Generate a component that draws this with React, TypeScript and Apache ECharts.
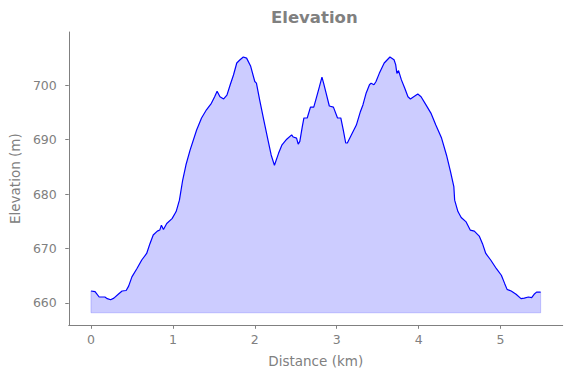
import React, { useEffect, useRef } from "react";
import * as echarts from "echarts";

const distanceKm = [
  0.0, 0.05, 0.1, 0.17, 0.2, 0.24, 0.28, 0.34, 0.38, 0.43, 0.46, 0.5, 0.56, 0.62, 0.68, 0.72, 0.76, 0.81, 0.84, 0.86,
  0.885, 0.925, 0.99, 1.04, 1.08, 1.12, 1.16, 1.21, 1.29, 1.35, 1.41, 1.47, 1.51, 1.54, 1.575, 1.62, 1.66, 1.7, 1.74,
  1.78, 1.82, 1.86, 1.9, 1.95, 2.0, 2.02, 2.06, 2.11, 2.16, 2.2, 2.24, 2.29, 2.33, 2.39, 2.45, 2.47, 2.51, 2.53, 2.55,
  2.58, 2.6, 2.64, 2.68, 2.72, 2.75, 2.79, 2.82, 2.84, 2.87, 2.91, 2.96, 3.01, 3.05, 3.08, 3.11, 3.13, 3.18, 3.24, 3.29,
  3.32, 3.36, 3.4, 3.42, 3.455, 3.48, 3.52, 3.58, 3.65, 3.7, 3.72, 3.735, 3.755, 3.79, 3.83, 3.87, 3.9, 3.94, 3.99,
  4.03, 4.09, 4.15, 4.21, 4.28, 4.34, 4.39, 4.43, 4.44, 4.48, 4.52, 4.58, 4.63, 4.68, 4.74, 4.78, 4.82, 4.88, 4.95,
  5.01, 5.05, 5.08, 5.13, 5.19, 5.25, 5.29, 5.34, 5.38, 5.41, 5.44, 5.49,
];

const elevationM = [
  662.2, 662.1, 661.1, 661.1, 660.8, 660.6, 660.9, 661.7, 662.2, 662.3, 663.1, 664.8, 666.3, 667.9, 669.1, 670.9, 672.5,
  673.2, 673.4, 674.3, 673.5, 674.6, 675.5, 676.8, 678.9, 682.6, 685.4, 688.1, 691.8, 694.0, 695.5, 696.7, 697.9, 698.9,
  697.9, 697.5, 698.2, 700.1, 701.9, 704.1, 704.7, 705.2, 705.0, 703.5, 700.7, 700.4, 697.3, 693.6, 690.0, 687.2, 685.3,
  687.5, 689.0, 690.1, 690.9, 690.5, 690.3, 689.2, 689.7, 692.4, 694.0, 694.0, 696.0, 696.0, 697.6, 699.8, 701.5, 700.4,
  698.6, 696.2, 696.0, 694.0, 694.0, 691.8, 689.4, 689.4, 690.9, 692.7, 695.2, 696.4, 698.6, 700.1, 700.4, 700.1, 700.7,
  702.2, 704.1, 705.2, 704.7, 703.8, 702.2, 702.7, 701.0, 699.5, 697.9, 697.5, 697.9, 698.4, 697.9, 696.4, 694.9, 692.7,
  690.3, 687.2, 684.1, 681.4, 678.9, 676.8, 675.7, 674.9, 673.4, 673.2, 672.3, 670.9, 669.1, 667.9, 666.3, 665.1, 663.6,
  662.5, 662.2, 661.6, 660.8, 660.9, 661.1, 661.0, 661.6, 662.0, 662.0,
];

const fillBase = 658.2;
const xTicks = [0, 1, 2, 3, 4, 5];
const yTicks = [660, 670, 680, 690, 700];

const GRAY = "#808080";
const FONT = "DejaVu Sans";

export default function App() {
  const ref = useRef<HTMLDivElement>(null);
  useEffect(() => {
    if (!ref.current) return;
    const chart = echarts.init(ref.current, undefined, { renderer: "svg" });
    const pts = distanceKm.map((d, i) => [d, elevationM[i]]);
    const n = distanceKm.length;
    const outline = [
      [distanceKm[0], elevationM[0]],
      [distanceKm[0], fillBase],
      [distanceKm[n - 1], fillBase],
      [distanceKm[n - 1], elevationM[n - 1]],
    ];
    chart.setOption({
      animation: false,
      title: {
        text: "Elevation",
        left: 271,
        top: 9,
        padding: 0,
        textStyle: { fontFamily: FONT, fontSize: 16.5, fontWeight: "bold", color: GRAY },
      },
      grid: { left: 66.7, right: 8.3, top: 32, bottom: 52.7 },
      xAxis: {
        type: "value",
        min: -0.271,
        max: 5.759,
        name: "Distance (km)",
        nameLocation: "middle",
        nameGap: 29,
        nameTextStyle: { fontFamily: FONT, fontSize: 13.5, color: GRAY },
        axisLine: { show: true, onZero: false, lineStyle: { color: GRAY, width: 1 } },
        axisTick: { show: true, length: 3.5, customValues: xTicks, lineStyle: { color: GRAY } },
        axisLabel: { customValues: xTicks, margin: 8, fontFamily: FONT, fontSize: 12.5, color: GRAY },
        splitLine: { show: false },
      },
      yAxis: {
        type: "value",
        min: 655.9,
        max: 709.8,
        name: "Elevation (m)",
        nameLocation: "middle",
        nameRotate: 90,
        nameGap: 41,
        nameTextStyle: { fontFamily: FONT, fontSize: 13.5, color: GRAY },
        axisLine: { show: true, onZero: false, lineStyle: { color: GRAY, width: 1 } },
        axisTick: { show: true, length: 3.5, customValues: yTicks, lineStyle: { color: GRAY } },
        axisLabel: { customValues: yTicks, margin: 12, fontFamily: FONT, fontSize: 12.5, color: GRAY },
        splitLine: { show: false },
      },
      series: [
        {
          type: "line",
          data: pts,
          showSymbol: false,
          symbol: "none",
          lineStyle: { color: "#0000ff", width: 1.2 },
          areaStyle: { color: "rgba(0,0,255,0.2)", origin: fillBase, opacity: 1 },
          z: 3,
        },
        {
          type: "line",
          data: outline,
          showSymbol: false,
          symbol: "none",
          lineStyle: { color: "rgba(0,0,255,0.18)", width: 1 },
          z: 2,
        },
      ],
    });
    return () => chart.dispose();
  }, []);
  return <div ref={ref} style={{ width: 571, height: 378, position: "absolute", left: 0, top: 0 }} />;
}
